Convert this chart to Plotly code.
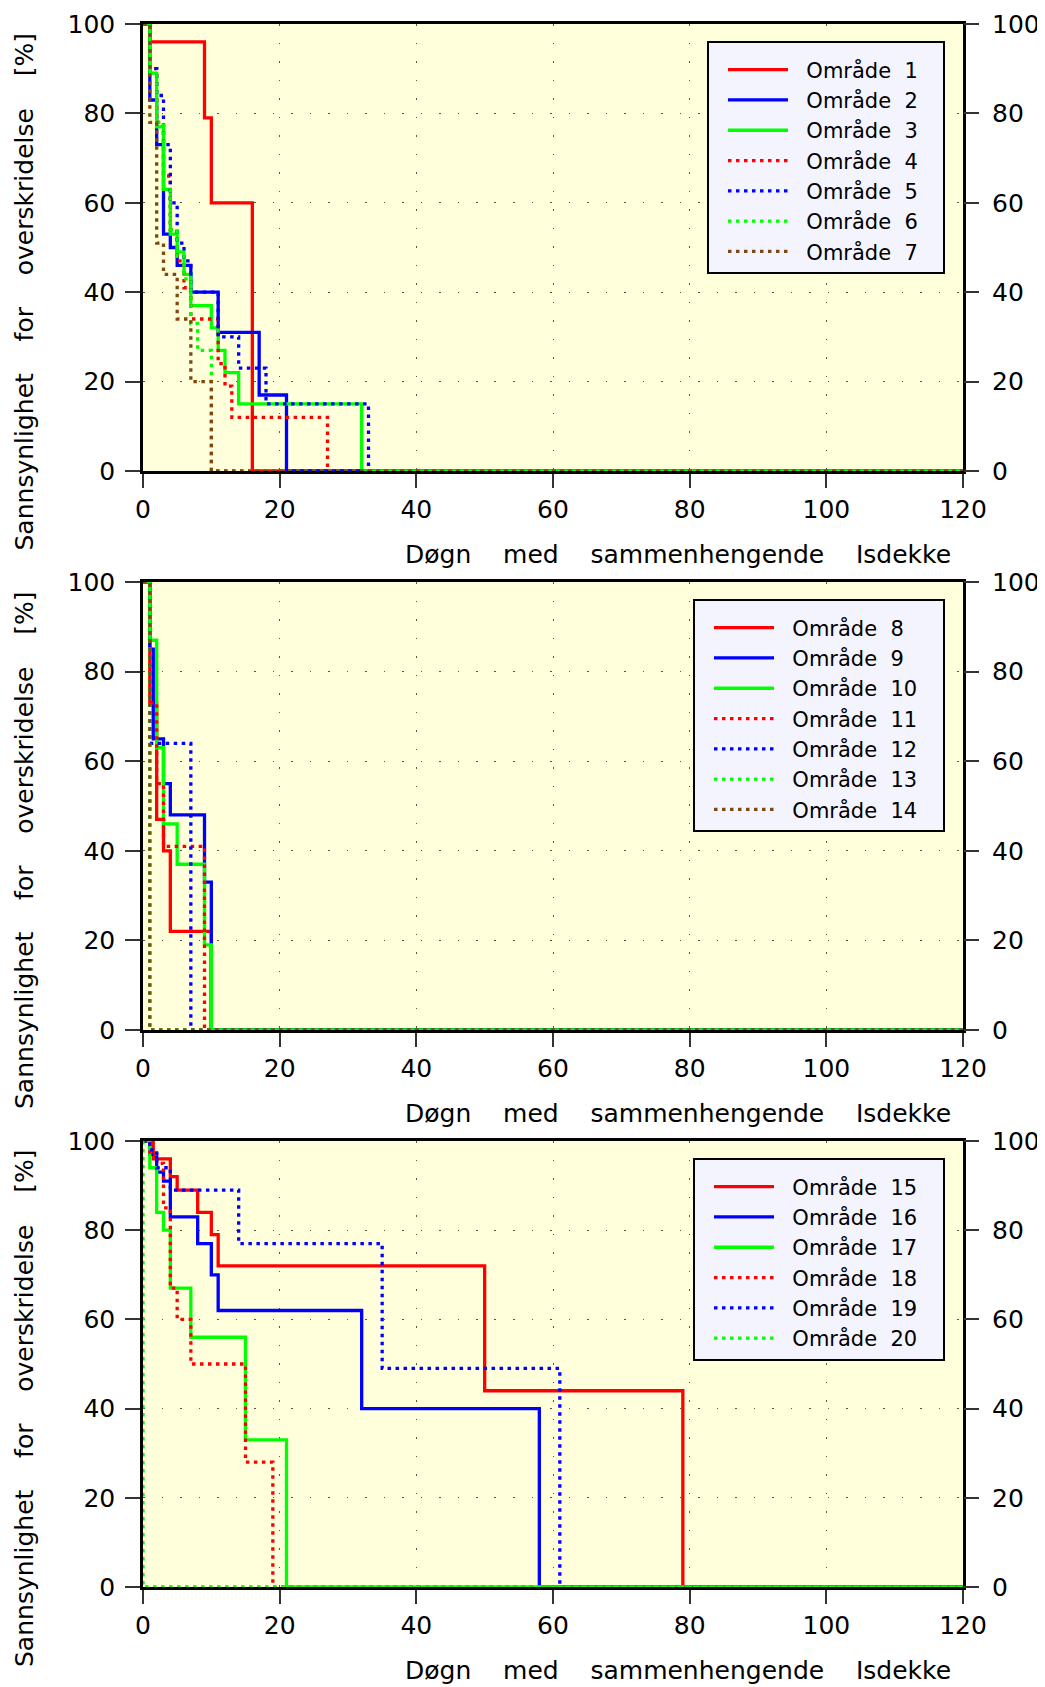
import plotly.graph_objects as go

# ---------------- data ----------------
x_ticks = [0, 20, 40, 60, 80, 100, 120]
y_ticks = [0, 20, 40, 60, 80, 100]
x_end = 120

# Panel 1 (Område 1-7)
omr1_x = [0, 1, 9, 10, 16]
omr1_y = [100, 96, 79, 60, 0]
omr2_x = [0, 1, 2, 3, 4, 5, 7, 11, 17, 21]
omr2_y = [100, 83, 73, 53, 50, 46, 40, 31, 17, 0]
omr3_x = [0, 1, 2, 3, 4, 5, 6, 7, 10, 11, 12, 14, 32]
omr3_y = [100, 89, 77, 63, 53, 49, 44, 37, 32, 27, 22, 15, 0]
omr4_x = [0, 1, 2, 3, 4, 5, 6, 7, 11, 12, 13, 27]
omr4_y = [100, 90, 78, 66, 54, 47, 41, 34, 24, 19, 12, 0]
omr5_x = [0, 1, 2, 3, 4, 5, 6, 7, 11, 14, 18, 33]
omr5_y = [100, 90, 84, 73, 60, 51, 47, 40, 30, 23, 15, 0]
omr6_x = [0, 1, 2, 3, 4, 5, 6, 7, 8, 10]
omr6_y = [100, 89, 78, 63, 54, 48, 43, 33, 27, 0]
omr7_x = [0, 1, 2, 3, 5, 7, 10]
omr7_y = [100, 78, 51, 44, 34, 20, 0]

# Panel 2 (Område 8-14)
omr8_x = [0, 1, 2, 3, 4, 10]
omr8_y = [100, 73, 47, 40, 22, 0]
omr9_x = [0, 1, 1.5, 3, 4, 9, 10]
omr9_y = [100, 85, 65, 55, 48, 33, 0]
omr10_x = [0, 1, 2, 3, 5, 9, 10]
omr10_y = [100, 87, 63, 46, 37, 19, 0]
omr11_x = [0, 1, 2, 3, 9]
omr11_y = [100, 73, 55, 41, 0]
omr12_x = [0, 1, 7]
omr12_y = [100, 64, 0]
omr13_x = [0, 1]
omr13_y = [100, 0]
omr14_x = [0, 1]
omr14_y = [100, 0]

# Panel 3 (Område 15-20)
omr15_x = [0, 1.5, 4, 5, 8, 10, 11, 50, 79]
omr15_y = [100, 96, 92, 89, 84, 79, 72, 44, 0]
omr16_x = [0, 1, 2, 3, 4, 8, 10, 11, 32, 58]
omr16_y = [100, 97, 93, 91, 83, 77, 70, 62, 40, 0]
omr17_x = [0, 1, 2, 3, 4, 7, 15, 21]
omr17_y = [100, 94, 84, 80, 67, 56, 33, 0]
omr18_x = [0, 1, 2, 3, 4, 5, 7, 15, 19]
omr18_y = [100, 97, 95, 85, 67, 60, 50, 28, 0]
omr19_x = [0, 1, 2, 4, 14, 35, 61]
omr19_y = [100, 98, 94, 89, 77, 49, 0]
omr20_x = [0, 0]
omr20_y = [100, 0]

panel1 = [(1, omr1_x, omr1_y), (2, omr2_x, omr2_y), (3, omr3_x, omr3_y),
          (4, omr4_x, omr4_y), (5, omr5_x, omr5_y), (6, omr6_x, omr6_y),
          (7, omr7_x, omr7_y)]
panel2 = [(8, omr8_x, omr8_y), (9, omr9_x, omr9_y), (10, omr10_x, omr10_y),
          (11, omr11_x, omr11_y), (12, omr12_x, omr12_y), (13, omr13_x, omr13_y),
          (14, omr14_x, omr14_y)]
panel3 = [(15, omr15_x, omr15_y), (16, omr16_x, omr16_y), (17, omr17_x, omr17_y),
          (18, omr18_x, omr18_y), (19, omr19_x, omr19_y), (20, omr20_x, omr20_y)]

# ---------------- styles ----------------
colors = ["#FF0000", "#0000FF", "#00FF00", "#FF0000", "#0000FF", "#00FF00", "#7F4A0F"]
dashes = ["solid", "solid", "solid", "3.5px,4.5px", "3.5px,4.5px", "3.5px,4.5px", "3.5px,4.5px"]
FONT = "DejaVu Sans"
NB = "\u00a0"
OFF = 8                      # default page body margin
W, H = 1045 - OFF, 1687 - OFF


def px(X):
    return (X - OFF) / W


def py(Y):
    return 1 - (Y - OFF) / H


x_dom = [px(143), px(963)]
y_doms = [[py(471), py(24)], [py(1030), py(582)], [py(1587), py(1141)]]
legend_tops = [41, 599, 1158]
BG = "#FFFFDC"

fig = go.Figure()
layout = dict(
    width=W, height=H, margin=dict(l=0, r=0, t=0, b=0, autoexpand=False),
    paper_bgcolor="white", plot_bgcolor=BG,
    font=dict(family=FONT, size=25, color="black"),
    annotations=[], showlegend=True,
)

for p, series in enumerate([panel1, panel2, panel3], start=1):
    xa = "x" if p == 1 else f"x{p}"
    ya = "y" if p == 1 else f"y{p}"
    leg = "legend" if p == 1 else f"legend{p}"
    for i, (num, xs, ys) in enumerate(series):
        fig.add_trace(go.Scatter(
            x=list(xs) + [x_end], y=list(ys) + [0],
            mode="lines", line=dict(color=colors[i], width=3.3, dash=dashes[i], shape="hv"),
            name=f"{NB*2}Område{NB*2}{num}{NB*3}", xaxis=xa, yaxis=ya, legend=leg,
            hoverinfo="skip",
        ))
    # dummy trace for the right-hand axis
    fig.add_trace(go.Scatter(x=[0], y=[0], mode="markers", marker=dict(opacity=0),
                             xaxis=xa, yaxis=f"y{p + 3}", showlegend=False, hoverinfo="skip"))

    layout[f"xaxis{'' if p == 1 else p}"] = dict(
        domain=x_dom, anchor=ya, range=[0, 120], tickvals=x_ticks, automargin=False,
        ticks="outside", ticklen=14, tickwidth=1.5, tickcolor="#333333",
        showline=True, linecolor="black", linewidth=2.5, mirror=True,
        showgrid=True, gridcolor="#555555", gridwidth=1.2, griddash="1.5px,17px",
        zeroline=False, layer="below traces", ticklabelstandoff=0,
        tickfont=dict(family=FONT, size=25),
    )
    layout[f"yaxis{'' if p == 1 else p}"] = dict(
        domain=y_doms[p - 1], anchor=xa, range=[0, 100], tickvals=y_ticks, automargin=False,
        ticks="outside", ticklen=15, tickwidth=1.5, tickcolor="#333333",
        showline=True, linecolor="black", linewidth=2.5, mirror=True,
        showgrid=True, gridcolor="#555555", gridwidth=1.2, griddash="1.5px,17px",
        zeroline=False, layer="below traces", ticklabelstandoff=5,
        tickfont=dict(family=FONT, size=25),
    )
    layout[f"yaxis{p + 3}"] = dict(
        overlaying=ya, anchor=xa, side="right", range=[0, 100], tickvals=y_ticks,
        automargin=False,
        ticks="outside", ticklen=15, tickwidth=1.5, tickcolor="#333333",
        showline=False, showgrid=False, zeroline=False, ticklabelstandoff=8,
        tickfont=dict(family=FONT, size=25),
    )
    layout[leg] = dict(
        x=px(945), y=py(legend_tops[p - 1]), xanchor="right", yanchor="top",
        xref="paper", yref="paper",
        bgcolor="#F4F4FF", bordercolor="black", borderwidth=2,
        font=dict(family=FONT, size=21), indentation=14, itemwidth=60,
        title=dict(text=NB, font=dict(size=5)),
    )
    layout["annotations"].append(dict(
        text=f"Døgn{NB*4}med{NB*4}sammenhengende{NB*4}Isdekke",
        xref=f"{xa} domain", yref=f"{ya} domain", x=0.988, y=0,
        xanchor="right", yanchor="top", yshift=-67, showarrow=False,
        font=dict(family=FONT, size=25),
    ))
    layout["annotations"].append(dict(
        text=f"Sannsynlighet{NB*4}for{NB*4}overskridelse{NB*4}[%]",
        xref="paper", yref=f"{ya} domain", x=px(24), y=0.5, yshift=-45,
        xanchor="center", yanchor="middle", textangle=-90, showarrow=False,
        font=dict(family=FONT, size=25),
    ))

fig.update_layout(**layout)
fig.write_html("out.html")
